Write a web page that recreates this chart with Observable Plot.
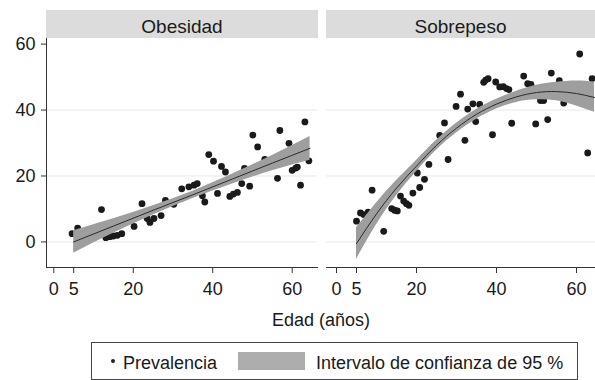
<!DOCTYPE html>
<html>
<head>
<meta charset="utf-8">
<script src="https://cdn.jsdelivr.net/npm/d3@7"></script>
<script src="https://cdn.jsdelivr.net/npm/@observablehq/plot@0.6"></script>
<style>
  html, body { margin: 0; padding: 0; background: #fff; }
  #wrap { position: relative; width: 595px; height: 380px; overflow: hidden; background: #fff;
          font-family: "Liberation Sans", Arial, sans-serif; color: #1a1a1a; }
  .panel { position: absolute; top: 0; }
  .hdr { position: absolute; top: 10px; height: 25px; padding-top: 3px; background: #dcdcdc; font-size: 19px;
         line-height: 28px; text-align: center; }
  .xlab { position: absolute; left: 221px; width: 200px; top: 311px; text-align: center; font-size: 18px; line-height: 18px; }
  .legend { position: absolute; left: 91px; top: 342px; width: 485px; height: 36px; border: 1px solid #444; }
  .legend span { position: absolute; font-size: 18px; line-height: 18px; white-space: nowrap; }
</style>
</head>
<body>
<div id="wrap">
  <div class="hdr" style="left:46px;width:272px">Obesidad</div>
  <div class="hdr" style="left:326px;width:269px">Sobrepeso</div>
  <div id="left" class="panel" style="left:0px"></div>
  <div id="right" class="panel" style="left:326px"></div>
  <div class="xlab">Edad (años)</div>
  <div class="legend">
    <div style="position:absolute;left:19px;top:16px;width:4px;height:4px;border-radius:2px;background:#222"></div>
    <span style="left:31px;top:11px">Prevalencia</span>
    <div style="position:absolute;left:146px;top:9px;width:67px;height:18px;background:#adadad"></div>
    <span style="left:224px;top:11px">Intervalo de confianza de 95 %</span>
  </div>
</div>
<script>
// Panels
const panels = ["Obesidad", "Sobrepeso"];
const xTicks = [0, 5, 20, 40, 60];
const yTicks = [0, 20, 40, 60];

// Obesidad: prevalence points
const oAge = [4.6,6.0,12.0,13.1,14.1,15.0,16.0,17.1,20.2,22.2,23.5,24.2,25.2,27.0,28.1,30.2,32.2,34.0,35.3,36.1,37.4,38.0,39.0,40.2,41.2,42.2,43.2,44.3,45.2,46.2,47.3,48.0,49.3,50.1,51.3,53.1,56.3,56.9,59.2,60.0,60.9,61.3,62.1,63.2,64.2];
const oVal = [2.5,4.2,9.8,1.3,1.6,1.8,2.0,2.5,4.7,11.6,7.1,5.9,7.1,8.0,12.6,11.4,16.1,16.7,17.2,17.7,14.0,12.1,26.5,24.5,14.7,22.9,21.2,13.8,14.5,15.0,17.7,22.3,16.9,32.4,28.8,25.0,19.3,33.8,29.9,21.7,22.4,22.7,17.2,36.4,24.6];
// Obesidad: fitted line and 95% CI
const oFitAge = [5,15,25,35,45,55,64.5];
const oFit = [0,4.8,9.6,14.3,19.1,23.9,28.4];
const oLo  = [-3.4,2.6,8.2,13.2,17.6,21.6,24.8];
const oHi  = [3.4,7.0,11.0,15.4,20.6,26.2,32.0];

// Sobrepeso: prevalence points
const sAge = [5.0,6.0,6.8,7.9,8.9,11.8,13.8,14.5,15.2,16.0,16.8,17.5,18.1,19.1,20.2,20.8,22.0,23.1,25.8,27.0,27.9,29.9,31.0,32.1,32.8,34.1,34.8,35.8,36.8,37.3,37.9,39.0,39.8,40.8,41.7,42.5,43.1,43.8,46.8,47.8,48.6,49.8,51.0,51.8,52.8,53.7,55.7,56.8,60.8,62.8,63.9];
const sVal = [6.3,8.8,8.3,9.0,15.7,3.2,10.1,9.6,9.4,13.9,12.4,11.6,11.1,14.8,20.9,16.5,19.0,23.5,32.3,36.1,25.0,41.1,44.8,30.8,40.3,41.9,36.5,41.7,48.4,49.1,49.5,32.5,48.5,47.0,47.1,46.5,46.2,36.0,50.3,48.0,47.8,35.8,42.9,42.9,37.1,51.2,48.9,42.1,57.0,27.0,49.5];
// Sobrepeso: fitted curve and 95% CI
const sFitAge = [5,10,15,20,25,30,35,40,45,50,55,60,64.5];
const sFit = [-0.5,8.5,16.3,23.0,29.3,34.5,38.7,41.8,44.0,45.3,45.6,45.0,43.8];
const sLo  = [-5.3,5.2,14.0,21.3,27.8,33.0,37.2,40.3,42.3,43.1,42.8,41.2,39.3];
const sHi  = [4.3,11.8,18.6,24.7,30.8,36.0,40.2,43.3,45.7,47.5,48.4,48.8,48.5];

const yDomain = [-7.76, 61.7];

function toRows(xs, ys) { return xs.map((x, i) => ({x, y: ys[i]})); }
function toFit(xs, f, lo, hi) { return xs.map((x, i) => ({x, f: f[i], lo: lo[i], hi: hi[i]})); }

function panel({pts, fit, width, marginLeft, xDomain, showY}) {
  const marks = [
    Plot.gridY([0, 20, 40], {stroke: "#e8e8e8", strokeOpacity: 1}),
    Plot.dot(pts, {x: "x", y: "y", r: 3.4, fill: "#1a1a1a", stroke: "none"}),
    Plot.areaY(fit, {x: "x", y1: "lo", y2: "hi", fill: "#9e9e9e", fillOpacity: 1, curve: "natural"}),
    Plot.lineY(fit, {x: "x", y: "f", stroke: "#2a2a2a", strokeWidth: 1, curve: "natural"}),
    Plot.axisX({ticks: xTicks, tickSize: 6, tickPadding: 9, label: null, fontSize: 18, stroke: "#333"}),
    Plot.frame({anchor: "bottom", stroke: "#333"})
  ];
  if (showY) {
    marks.push(Plot.axisY({ticks: yTicks, tickSize: 5, tickPadding: 6, label: null, fontSize: 18, stroke: "#333"}));
    marks.push(Plot.frame({anchor: "left", stroke: "#333"}));
  }
  return Plot.plot({
    width, height: 300,
    marginLeft, marginRight: 0, marginTop: 38, marginBottom: 33,
    style: {fontFamily: "'Liberation Sans', Arial, sans-serif", fontSize: "18px", color: "#1a1a1a", background: "transparent", overflow: "visible"},
    x: {domain: xDomain},
    y: {domain: yDomain, axis: showY ? undefined : null},
    marks
  });
}

document.getElementById("left").appendChild(panel({
  pts: toRows(oAge, oVal), fit: toFit(oFitAge, oFit, oLo, oHi),
  width: 317, marginLeft: 46, xDomain: [-1.84, 66.37], showY: true
}));
document.getElementById("right").appendChild(panel({
  pts: toRows(sAge, sVal), fit: toFit(sFitAge, sFit, sLo, sHi),
  width: 269, marginLeft: 0, xDomain: [-2.5, 64.75], showY: false
}));
</script>
</body>
</html>
